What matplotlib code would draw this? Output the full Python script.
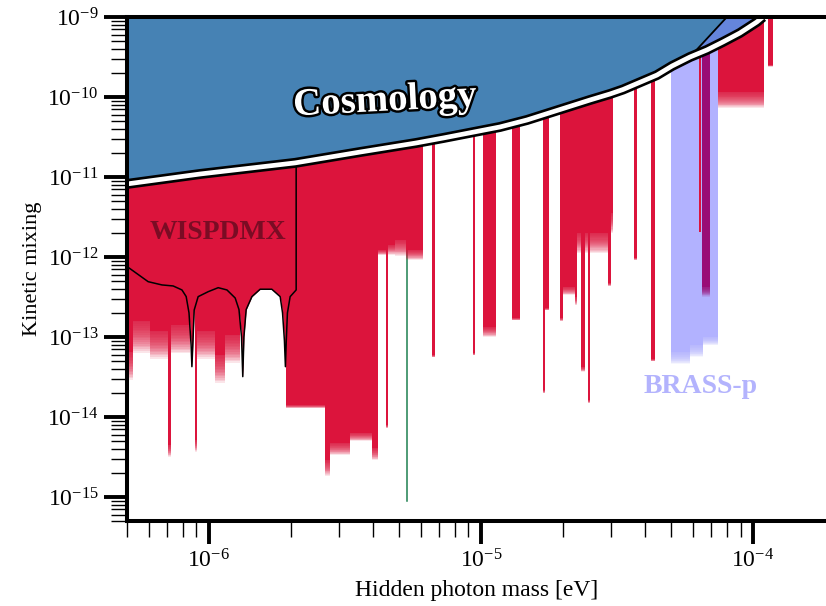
import numpy as np
import matplotlib
matplotlib.use('Agg')
import matplotlib.pyplot as plt
import matplotlib.patheffects as pe
from matplotlib.ticker import FixedLocator, LogLocator, NullFormatter

plt.rcParams['font.family'] = ['Liberation Serif', 'DejaVu Serif']
plt.rcParams['mathtext.fontset'] = 'stix'

TOP = 1e-9

# ---------------- data ----------------
# Cosmology bound (lower edge of the blue region)
cosmo_m = [5.0e-7, 9.29e-7, 2.075e-6, 3.596e-6, 5.775e-6, 7.26e-6, 1.175e-5,
           1.477e-5, 2.517e-5, 2.98e-5, 3.327e-5, 4.436e-5, 5.04e-5, 5.865e-5,
           6.77e-5, 7.75e-5, 8.95e-5, 1.033e-4, 1.087e-4]
cosmo_chi = [8.18e-12, 1.09e-11, 1.50e-11, 2.05e-11, 2.66e-11, 3.07e-11, 4.22e-11,
             5.16e-11, 9.17e-11, 1.09e-10, 1.24e-10, 1.88e-10, 2.44e-10, 3.16e-10,
             3.87e-10, 4.87e-10, 6.31e-10, 8.66e-10, 1.0e-9]
# end of the main cosmology patch (straight edge to the top)
cosmo_edge_m = [5.865e-5, 8.02e-5]
cosmo_edge_chi = [3.16e-10, 1.0e-9]

# WISPDMX exclusion boundary
wisp_m = [5.0e-7, 5.98e-7, 6.72e-7, 7.39e-7, 7.96e-7, 8.25e-7, 8.45e-7, 8.60e-7,
          8.66e-7, 8.74e-7, 8.83e-7, 9.13e-7, 9.94e-7, 1.082e-6, 1.165e-6,
          1.249e-6, 1.290e-6, 1.318e-6, 1.332e-6, 1.345e-6, 1.371e-6, 1.439e-6,
          1.543e-6, 1.703e-6, 1.828e-6, 1.865e-6, 1.895e-6, 1.911e-6, 1.925e-6,
          1.944e-6, 1.989e-6, 2.093e-6, 2.093e-6]
wisp_chi = [7.6e-13, 4.91e-13, 4.47e-13, 4.34e-13, 3.87e-13, 3.2e-13, 2.0e-13, 8.0e-14,
            4.25e-14, 9.0e-14, 2.17e-13, 3.19e-13, 3.68e-13, 4.13e-13, 3.87e-13,
            3.07e-13, 2.2e-13, 1.0e-13, 3.19e-14, 1.0e-13, 2.2e-13, 3.19e-13,
            3.95e-13, 3.95e-13, 3.19e-13, 2.0e-13, 9.0e-14, 4.25e-14, 9.0e-14,
            2.0e-13, 3.19e-13, 3.87e-13, 1.0e-9]

# haloscope limits (red strips): lower mass, upper mass, limit, fuzz (decades)
red_lo = [5.0e-7, 5.27e-7, 6.08e-7, 7.09e-7, 7.27e-7, 8.91e-7, 9.06e-7, 1.055e-6, 1.148e-6,
          1.923e-6, 2.675e-6, 2.79e-6, 3.304e-6, 3.98e-6, 4.19e-6, 4.48e-6, 4.56e-6,
          4.84e-6, 5.31e-6, 6.61e-6, 9.36e-6, 1.018e-5, 1.301e-5, 1.691e-5, 1.72e-5,
          1.953e-5, 2.005e-5, 2.217e-5, 2.26e-5, 2.327e-5, 2.413e-5, 2.481e-5, 2.517e-5,
          2.938e-5, 2.999e-5, 3.65e-5, 4.216e-5, 6.49e-5, 7.43e-5, 1.134e-4]
red_hi = [5.27e-7, 6.08e-7, 7.09e-7, 7.27e-7, 8.54e-7, 9.06e-7, 1.055e-6, 1.148e-6, 1.303e-6,
          2.675e-6, 2.79e-6, 3.304e-6, 3.98e-6, 4.19e-6, 4.48e-6, 4.56e-6, 4.84e-6,
          5.31e-6, 6.13e-6, 6.78e-6, 9.51e-6, 1.136e-5, 1.392e-5, 1.72e-5, 1.78e-5,
          2.005e-5, 2.217e-5, 2.26e-5, 2.327e-5, 2.413e-5, 2.481e-5, 2.517e-5, 2.938e-5,
          2.999e-5, 3.064e-5, 3.76e-5, 4.362e-5, 6.95e-5, 1.096e-4, 1.184e-4]
red_lim = [6.5e-14, 1.6e-13, 1.2e-13, 4.5e-15, 1.4e-13, 5.2e-15, 1.2e-13, 6.0e-14, 1.06e-13,
           1.41e-14, 2.9e-15, 4.73e-15, 6.31e-15, 4.1e-15, 1.22e-12, 7.94e-15, 1.41e-12,
           1.63e-12, 1.22e-12, 5.96e-14, 6.31e-14, 1.33e-13, 1.73e-13, 2.17e-14, 2.3e-13,
           1.73e-13, 4.22e-13, 3.16e-13, 2.0e-12, 4.22e-14, 2.0e-12, 1.63e-14, 2.0e-12,
           4.73e-13, 3.55e-12, 9.8e-13, 5.3e-14, 4.22e-13, 1.15e-10, 2.51e-10]
red_fuzz = [0.35, 0.4, 0.35, 0.15, 0.35, 0.15, 0.35, 0.35, 0.35,
            0.04, 0.2, 0.15, 0.1, 0.15, 0.06, 0.04, 0.12,
            0.2, 0.12, 0.03, 0.03, 0.12, 0.03, 0.04, 0.03,
            0.04, 0.1, 0.1, 0.25, 0.06, 0.25, 0.04, 0.25,
            0.04, 0.25, 0.03, 0.03, 0.12, 0.2, 0.02]
# red strip drawn over the BRASS-p band
red_top_lo = [6.33e-5]
red_top_hi = [6.44e-5]
red_top_lim = [2.05e-12]

# BRASS-p
brass_lo = [5.0e-5, 5.865e-5, 6.55e-5]
brass_hi = [5.865e-5, 6.55e-5, 7.43e-5]
brass_lim = [6.49e-14, 7.94e-14, 1.0e-13]
brass_fuzz = [0.15, 0.15, 0.1]

# single narrow line (green)
green_m = [5.35e-6, 5.35e-6]
green_chi = [2.0e-12, 8.9e-16]

XLIM = (5.0e-7, 1.855e-4)
YLIM = (5.0e-16, 1.0e-9)
x_major = [1e-6, 1e-5, 1e-4]
y_major = [1e-15, 1e-14, 1e-13, 1e-12, 1e-11, 1e-10, 1e-9]

CRIMSON = '#DC143C'
STEEL = '#4682B4'
MIDBLUE = '#6585DC'
BRASS_BLUE = '#B3B3FD'


def step_arrays(lo, hi, lim, fuzz):
    order = np.argsort(lo)
    xs, ys, fz = [], [], []
    for i in order:
        if xs and abs(xs[-1] - lo[i]) / lo[i] < 1e-9:
            ys[-1] = lim[i]
            fz[-1] = fuzz[i]
        else:
            xs.append(lo[i]); ys.append(lim[i]); fz.append(fuzz[i])
        xs.append(hi[i]); ys.append(TOP); fz.append(0.0)
    return np.array(xs), np.array(ys), np.array(fz)


fig = plt.figure(figsize=(8.26, 6.06), dpi=100)
W, H = 826, 606
ax = fig.add_axes([127 / W, 1 - 521 / H, (826 - 127) / W, (521 - 17) / H])
ax.set_xscale('log')
ax.set_yscale('log')

# green line
ax.plot(green_m, green_chi, color='#1E8050', lw=1.1, zorder=1)

N_FADE = 18
A_FADE = 0.11

# red strips
xs, ys, fz = step_arrays(red_lo, red_hi, red_lim, red_fuzz)
ax.fill_between(xs, ys, TOP, step='post', color=CRIMSON, lw=0, zorder=2)
for k in range(1, N_FADE + 1):
    bot = ys * 10 ** (-fz * k / N_FADE)
    ax.fill_between(xs, bot, ys, step='post', color=CRIMSON, alpha=A_FADE, lw=0, zorder=2)

# WISPDMX
ax.fill_between(wisp_m, wisp_chi, TOP, color=CRIMSON, lw=0, zorder=2)
ax.plot(wisp_m, wisp_chi, color='black', lw=1.1, zorder=3.5)

# BRASS-p
bx, by, bf = step_arrays(brass_lo, brass_hi, brass_lim, brass_fuzz)
ax.fill_between(bx, by, TOP, step='post', color='blue', alpha=0.30, lw=0, zorder=3)
for k in range(1, N_FADE + 1):
    bot = by * 10 ** (-bf * k / N_FADE)
    ax.fill_between(bx, bot, by, step='post', color=BRASS_BLUE, alpha=A_FADE, lw=0, zorder=3)

# red strip on top of BRASS-p
tx, ty, _ = step_arrays(red_top_lo, red_top_hi, red_top_lim, [0.0])
ax.fill_between(tx, ty, TOP, step='post', color=CRIMSON, lw=0, zorder=3.2)

# Cosmology
cm = np.array(cosmo_m); cc = np.array(cosmo_chi)
sel = cm <= cosmo_edge_m[0]
poly_x = list(cm[sel]) + [cosmo_edge_m[1], cm[0]]
poly_y = list(cc[sel]) + [cosmo_edge_chi[1], TOP]
ax.fill(poly_x, poly_y, color=STEEL, lw=0, zorder=4)
sel2 = cm >= cosmo_edge_m[0]
poly2_x = list(cm[sel2]) + [cosmo_edge_m[1]]
poly2_y = list(cc[sel2]) + [cosmo_edge_chi[1]]
ax.fill(poly2_x, poly2_y, color=MIDBLUE, lw=0, zorder=4)
ax.plot(cosmo_edge_m, cosmo_edge_chi, color='black', lw=1.3, zorder=4.2)
ax.plot(cosmo_m, cosmo_chi, color='white', lw=3.4, zorder=5, solid_capstyle='butt',
        path_effects=[pe.Stroke(linewidth=7.2, foreground='black'), pe.Normal()])

# labels
ax.text(0.369, 0.833, 'Cosmology', transform=ax.transAxes, ha='center', va='center',
        fontsize=28, fontweight='bold', color='white', rotation=3, zorder=6,
        path_effects=[pe.Stroke(linewidth=3.5, foreground='black'), pe.Normal()])
ax.text(0.130, 0.559, 'WISPDMX', transform=ax.transAxes, ha='center', va='baseline',
        fontsize=20, fontweight='bold', color='#7A0C24', zorder=6)
ax.text(0.821, 0.254, 'BRASS-p', transform=ax.transAxes, ha='center', va='baseline',
        fontsize=20, fontweight='bold', color=BRASS_BLUE, zorder=6)

ax.set_xlim(*XLIM)
ax.set_ylim(*YLIM)

for s in ['left', 'bottom', 'top']:
    ax.spines[s].set_linewidth(2.9)
    ax.spines[s].set_zorder(10)
ax.spines['right'].set_visible(False)

ax.xaxis.set_major_locator(FixedLocator(x_major))
ax.yaxis.set_major_locator(FixedLocator(y_major))
ax.yaxis.set_minor_locator(LogLocator(base=10, subs=np.arange(2, 10), numticks=20))
ax.xaxis.set_minor_locator(LogLocator(base=10, subs=np.arange(2, 10), numticks=20))
ax.yaxis.set_minor_formatter(NullFormatter())
ax.xaxis.set_minor_formatter(NullFormatter())
ax.xaxis.set_major_formatter(matplotlib.ticker.LogFormatterSciNotation())
ax.yaxis.set_major_formatter(matplotlib.ticker.LogFormatterSciNotation())

ax.tick_params(which='major', direction='out', length=16.5, width=2.8, labelsize=17, pad=4)
ax.tick_params(which='minor', direction='out', length=11.5, width=1.0)

ax.set_xlabel('Hidden photon mass [eV]', fontsize=17, labelpad=5)
ax.set_ylabel('Kinetic mixing', fontsize=16, labelpad=4)

fig.savefig('out.png', dpi=100)
